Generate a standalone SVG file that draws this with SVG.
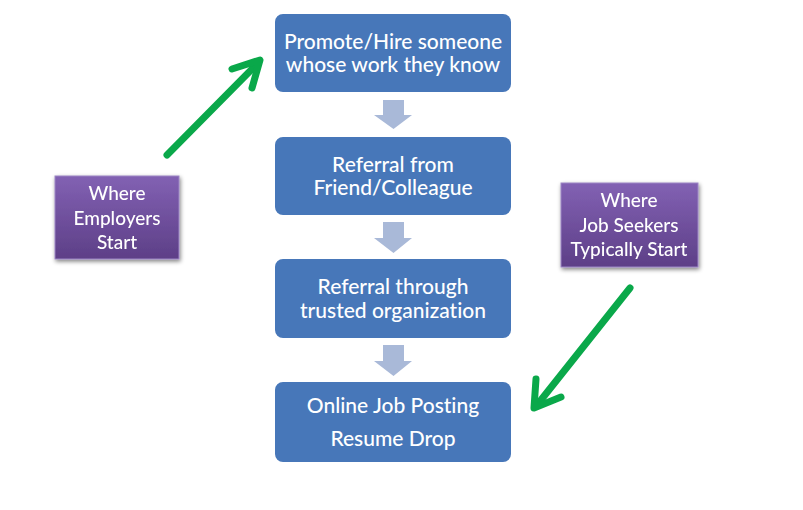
<svg xmlns="http://www.w3.org/2000/svg" width="803" height="510" viewBox="0 0 803 510">
<style>
.box{fill:#4777b9;}
.bt{font-family:Lato,"Liberation Sans",sans-serif;font-size:21px;font-weight:500;fill:#ffffff;text-anchor:middle;font-variant-ligatures:none;}
.pt{font-family:Lato,"Liberation Sans",sans-serif;font-size:19px;font-weight:500;fill:#ffffff;text-anchor:middle;font-variant-ligatures:none;}
.blk{fill:#a9b9d8;}
.grn{stroke:#0aa84a;stroke-width:7;fill:none;stroke-linecap:round;stroke-linejoin:round;}
</style>
<defs>
<linearGradient id="pg" x1="0" y1="0" x2="0" y2="1">
<stop offset="0" stop-color="#8261b3"/>
<stop offset="1" stop-color="#5d3f87"/>
</linearGradient>
<filter id="sh" x="-20%" y="-20%" width="140%" height="140%">
<feGaussianBlur in="SourceAlpha" stdDeviation="2"/>
<feOffset dx="1" dy="2" result="b"/>
<feComponentTransfer><feFuncA type="linear" slope="0.5"/></feComponentTransfer>
<feMerge><feMergeNode/><feMergeNode in="SourceGraphic"/></feMerge>
</filter>
</defs>
<rect width="803" height="510" fill="#ffffff"/>
<g id="n1">
<rect class="box" x="275" y="14" width="236" height="78" rx="8"/>
<text class="bt" x="393" y="49">Promote/Hire someone</text>
<text class="bt" x="393" y="72">whose work they know</text>
</g>
<g id="n2">
<rect class="box" x="275" y="137" width="236" height="78" rx="8"/>
<text class="bt" x="393" y="172">Referral from</text>
<text class="bt" x="393" y="195">Friend/Colleague</text>
</g>
<g id="n3">
<rect class="box" x="275" y="259" width="236" height="79" rx="8"/>
<text class="bt" x="393" y="294">Referral through</text>
<text class="bt" x="393" y="318">trusted organization</text>
</g>
<g id="n4">
<rect class="box" x="275" y="382" width="236" height="80" rx="8"/>
<text class="bt" x="393" y="413">Online Job Posting</text>
<text class="bt" x="393" y="446">Resume Drop</text>
</g>
<g id="n5" filter="url(#sh)">
<rect x="55" y="176" width="124" height="83" fill="url(#pg)" stroke="#9c86c4" stroke-width="1"/>
<text class="pt" x="117" y="200">Where</text>
<text class="pt" x="117" y="225">Employers</text>
<text class="pt" x="117" y="249">Start</text>
</g>
<g id="n6" filter="url(#sh)">
<rect x="561" y="183" width="137" height="84" fill="url(#pg)" stroke="#9c86c4" stroke-width="1"/>
<text class="pt" x="629" y="207">Where</text>
<text class="pt" x="629" y="232">Job Seekers</text>
<text class="pt" x="629" y="256">Typically Start</text>
</g>
<g id="connectors">
<polygon class="blk" points="383,100 404,100 404,115 412,115 393.5,129 374,115 383,115"/>
<polygon class="blk" points="383,222 404,222 404,238 412,238 393.5,253 374,238 383,238"/>
<polygon class="blk" points="383,345 404,345 404,361 412,361 393.5,376 374,361 383,361"/>
<line class="grn" x1="167" y1="155" x2="258" y2="63"/>
<polyline class="grn" points="232,69 260,60 252,88"/>
<line class="grn" x1="630" y1="288" x2="537" y2="405"/>
<polyline class="grn" points="536,379 534,408 561,397"/>
</g>
</svg>
